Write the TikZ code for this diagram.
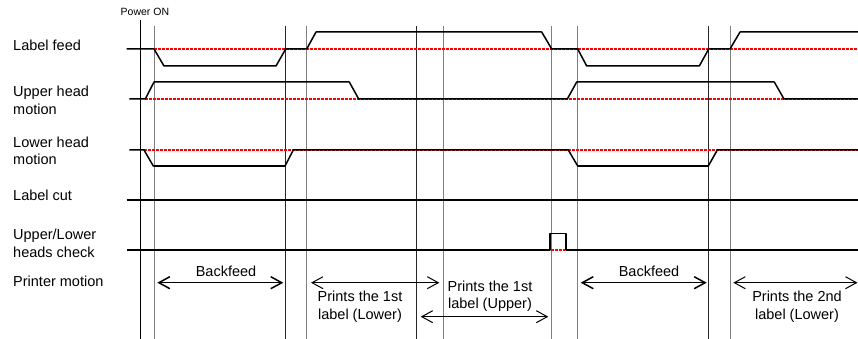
\documentclass[tikz,border=0pt]{standalone}
\usepackage{fontspec}
\setmainfont{Liberation Sans}
\usetikzlibrary{arrows.meta}

\begin{document}
\begin{tikzpicture}[x=1pt, y=-1pt,
  sig/.style={line width=1.5pt, line join=round},
  refline/.style={red, dash pattern=on 3pt off 1pt, line width=1.3pt},
  tline/.style={line width=0.9pt},
  span/.style={{Straight Barb[length=11pt,width=12pt]}-{Straight Barb[length=11pt,width=12pt]}, line width=1.5pt},
  thinspan/.style={span, line width=1pt},
  rowlbl/.style={anchor=west, align=left, inner sep=0pt, font=\fontsize{14.5}{17.5}\selectfont},
  txt/.style={align=center, inner sep=0pt, font=\fontsize{14.5}{17.5}\selectfont}]
\useasboundingbox (0,0) rectangle (858,339);

% row labels
\node[rowlbl] (feed)  at (13,45)    {Label feed};
\node[rowlbl] (upper) at (13,100.5) {Upper head\\motion};
\node[rowlbl] (lower) at (13,151)   {Lower head\\motion};
\node[rowlbl] (cut)   at (13,195)   {Label cut};
\node[rowlbl] (check) at (13,243.5) {Upper/Lower\\heads check};
\node[rowlbl] (motion) at (13,281.5) {Printer motion};
\node[anchor=west, inner sep=0pt, font=\fontsize{10.5}{12}\selectfont] (power) at (120.5,11.5) {Power ON};

% time marks
\draw[tline] (140.7,20) -- (140.7,339);
\foreach \x/\c in {154/gray, 285.7/black!85, 306.7/gray, 416.7/black!85, 443.3/gray,
                   551/gray, 577.7/gray, 708.7/black!85, 730/gray}
  \draw[tline, \c] (\x,26) -- (\x,339);

% reference levels
\draw[refline] (154,49) -- (858,49);
\draw[refline] (145,99) -- (858,99);
\draw[refline] (144,150) -- (858,150);

% Label feed
\draw[sig] (126.7,49) -- (154,49) -- (164,66) -- (276,66) -- (285.7,49) -- (306.7,49)
  -- (316,32) -- (541.7,32) -- (551.7,49) -- (577.7,49) -- (586.7,66) -- (699.3,66)
  -- (708.7,49) -- (730,49) -- (740,32) -- (858,32);
% Upper head motion
\draw[sig] (129.3,99) -- (145.3,99) -- (154,82) -- (349.3,82) -- (358.7,99) -- (567.3,99)
  -- (576.7,82) -- (774.3,82) -- (784,99) -- (858,99);
% Lower head motion
\draw[sig] (129.3,150) -- (144,150) -- (153.3,166) -- (285,166) -- (293.3,150) -- (568.3,150)
  -- (577.7,166) -- (708.3,166) -- (717.3,150) -- (858,150);
% Label cut
\draw[sig] (126.7,200) -- (858,200);
% heads check
\draw[sig] (126.7,250) -- (550,250) -- (550,233.3) -- (566,233.3) -- (566,250) -- (858,250);
\draw[refline] (551,250) -- (565,250);

% printer motion
\coordinate (bf1a) at (157.3,282.7);  \coordinate (bf1b) at (283.3,282.7);
\coordinate (pl1a) at (311,282.7);    \coordinate (pl1b) at (439.3,282.7);
\coordinate (pu1a) at (420.7,316.7);  \coordinate (pu1b) at (548.3,316.7);
\coordinate (bf2a) at (580.7,282.7);  \coordinate (bf2b) at (706.7,282.7);
\coordinate (pl2a) at (733.3,282.7);  \coordinate (pl2b) at (857.5,282.7);

\draw[span] (bf1a) -- (bf1b);
\draw[thinspan] (pl1a) -- (pl1b);
\draw[thinspan] (pu1a) -- (pu1b);
\draw[span] (bf2a) -- (bf2b);
\draw[thinspan] (pl2a) -- (pl2b);

\node[txt] (bf1) at (226,271) {Backfeed};
\node[txt] (bf2) at (649,271) {Backfeed};
\node[txt] (pl1) at (360,306.5) {Prints the 1st\\label (Lower)};
\node[txt] (pu1) at (490,296) {Prints the 1st\\label (Upper)};
\node[txt] (pl2) at (797,306.5) {Prints the 2nd\\label (Lower)};
\end{tikzpicture}
\end{document}
